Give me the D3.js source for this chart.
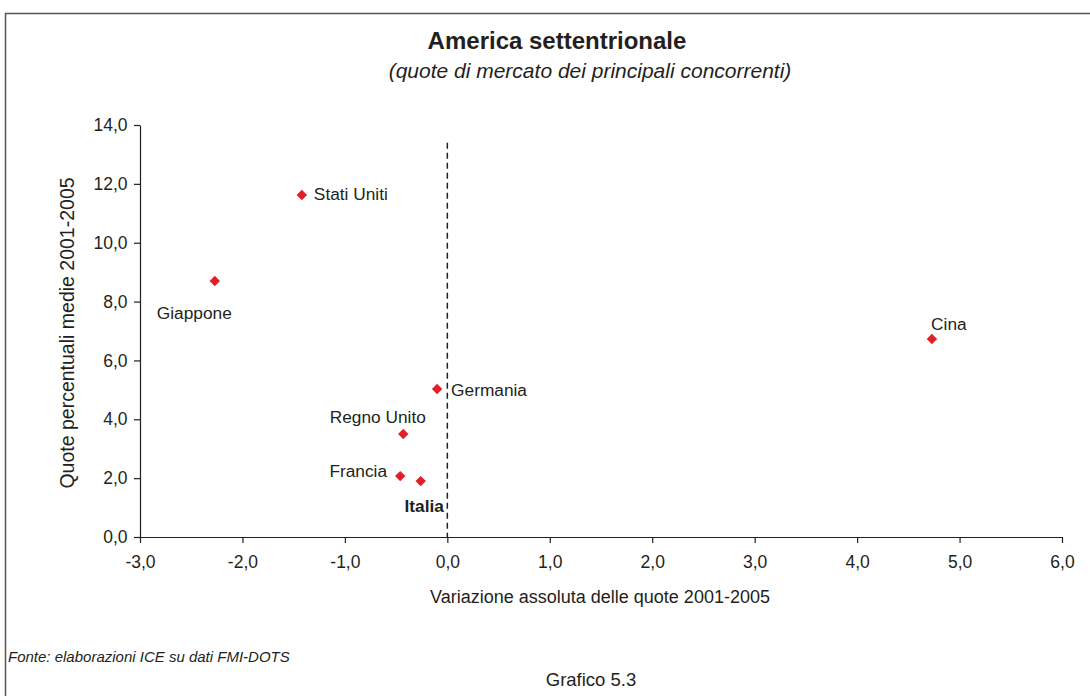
<!DOCTYPE html>
<html><head><meta charset="utf-8">
<script src="https://cdn.jsdelivr.net/npm/d3@7"></script>
<style>body{margin:0;background:#fff;} svg{display:block;font-family:"Liberation Sans",Arial,sans-serif;}</style>
</head><body>
<svg id="c" width="1090" height="696"></svg>
<script>
const countries = ["Stati Uniti","Giappone","Germania","Regno Unito","Francia","Italia","Cina"];
const variazione = [-1.42,-2.27,-0.10,-0.43,-0.46,-0.26,4.73];
const quote = [11.62,8.70,5.03,3.50,2.07,1.90,6.73];
const xTicks = [-3,-2,-1,0,1,2,3,4,5,6];
const yTicks = [0,2,4,6,8,10,12,14];

const svg = d3.select("#c");
const fmt = d => d3.format(".1f")(d).replace(".",",").replace("−","-");
const x = d3.scaleLinear().domain([-3,6]).range([140,1062]);
const y = d3.scaleLinear().domain([0,14]).range([537,125]);
const ink = "#231f20";

// frame
svg.append("rect").attr("x",5.5).attr("y",13.5).attr("width",1200).attr("height",800)
  .attr("fill","none").attr("stroke","#555").attr("stroke-width",1.5);

svg.append("text").attr("x",557).attr("y",49).attr("text-anchor","middle")
  .attr("font-size",24).attr("font-weight","bold").attr("fill",ink).text("America settentrionale");
svg.append("text").attr("x",590).attr("y",78).attr("text-anchor","middle")
  .attr("font-size",21).attr("font-style","italic").attr("fill",ink).text("(quote di mercato dei principali concorrenti)");

// axes
const gx = svg.append("g").attr("transform","translate(0,537)")
  .call(d3.axisBottom(x).tickValues(xTicks).tickFormat(fmt).tickSize(6).tickSizeOuter(0));
const gy = svg.append("g").attr("transform","translate(140,0)")
  .call(d3.axisLeft(y).tickValues(yTicks).tickFormat(fmt).tickSize(6).tickSizeOuter(0));
[gx,gy].forEach(g=>{
  g.selectAll("path,line").attr("stroke",ink).attr("stroke-width",1.2);
  g.selectAll("text").attr("font-size",17.5).attr("fill",ink).attr("font-family","Liberation Sans,Arial,sans-serif");
});
gx.selectAll("text").attr("dy","1.25em");
gy.selectAll("text").attr("dx","-0.2em");

// zero line
svg.append("line").attr("x1",x(0)).attr("x2",x(0)).attr("y1",y(13.4)).attr("y2",y(0))
  .attr("stroke",ink).attr("stroke-width",1.5).attr("stroke-dasharray","6,4");

// axis titles
svg.append("text").attr("x",600).attr("y",603).attr("text-anchor","middle")
  .attr("font-size",18).attr("fill",ink).text("Variazione assoluta delle quote 2001-2005");
svg.append("text").attr("transform","translate(74,333) rotate(-90)").attr("text-anchor","middle")
  .attr("font-size",19.5).attr("fill",ink).text("Quote percentuali medie 2001-2005");

// points
const data = countries.map((c,i)=>({c,vx:variazione[i],vy:quote[i]}));
const r = 5.2;
svg.append("g").selectAll("path").data(data).join("path")
  .attr("transform",d=>`translate(${x(d.vx)},${y(d.vy)})`)
  .attr("d",`M0,${-r}L${r},0L0,${r}L${-r},0Z`).attr("fill","#e41e26");

// labels (offsets relative to point)
const labelOff = {
  "Stati Uniti":[12,5,"start"],
  "Giappone":[-20.5,38,"middle"],
  "Germania":[14,7,"start"],
  "Regno Unito":[-25.5,-11,"middle"],
  "Francia":[-42,1,"middle"],
  "Italia":[3.5,31,"middle"],
  "Cina":[17,-9,"middle"]
};
svg.append("g").selectAll("text").data(data).join("text")
  .attr("x",d=>x(d.vx)+labelOff[d.c][0]).attr("y",d=>y(d.vy)+labelOff[d.c][1])
  .attr("text-anchor",d=>labelOff[d.c][2]).attr("font-size",17.3).attr("fill",ink)
  .attr("font-weight",d=>d.c==="Italia"?"bold":"normal").text(d=>d.c);

svg.append("text").attr("x",8).attr("y",662).attr("font-size",15).attr("font-style","italic")
  .attr("fill",ink).text("Fonte: elaborazioni ICE su dati FMI-DOTS");
svg.append("text").attr("x",591).attr("y",686).attr("text-anchor","middle")
  .attr("font-size",18.5).attr("fill",ink).text("Grafico 5.3");
</script>
</body></html>
